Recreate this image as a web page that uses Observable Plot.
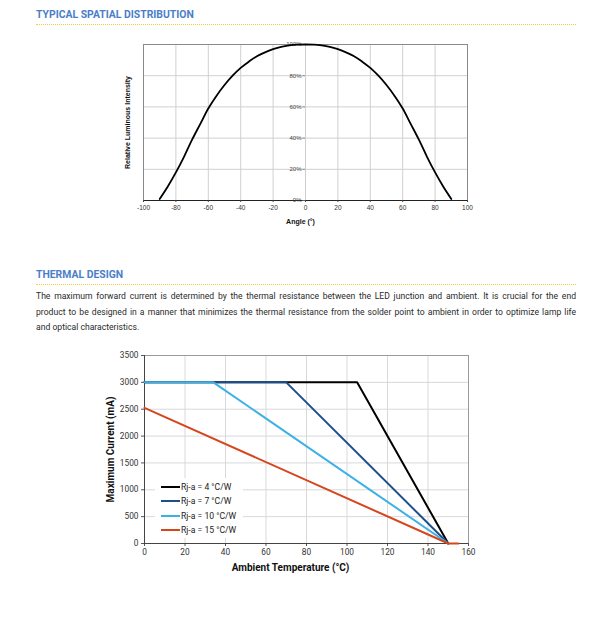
<!DOCTYPE html>
<html>
<head>
<meta charset="utf-8">
<script src="https://cdn.jsdelivr.net/npm/d3@7"></script>
<script src="https://cdn.jsdelivr.net/npm/@observablehq/plot@0.6"></script>
<style>
  html, body { margin: 0; padding: 0; background: #fff; }
  body { width: 612px; height: 627px; position: relative; overflow: hidden; font-family: Roboto, "Noto Sans", sans-serif; }
  .h { position: absolute; left: 36px; width: 540px; font-weight: 700; font-size: 10.4px; color: #4a7ec8; line-height: 12px; }
  .dots { position: absolute; left: 36px; width: 540px; height: 0; border-top: 1px dotted #eccf3a; }
  .p { position: absolute; left: 36px; width: 540px; font-size: 8.6px; color: #2a2a2a; line-height: 15.5px; }
  .p div { white-space: nowrap; }
  .p div.j { text-align: justify; text-align-last: justify; white-space: normal; }
  .chart { position: absolute; left: 0; }
  .legend { position: absolute; left: 155px; top: 478px; width: 88px; height: 60px; background: #fff; }
  .legend .row { position: absolute; left: 6px; height: 12px; font-size: 8.6px; color: #222; line-height: 12px; white-space: nowrap; }
  .legend .sw { display: inline-block; width: 19px; height: 2.4px; vertical-align: middle; margin-right: 1px; position: relative; top: -1px; }
  #c1 g[aria-label$="axis label"] { font-weight: bold; font-size: 7px; fill: #111; }
  #c2 g[aria-label$="axis label"] { font-weight: bold; font-size: 10px; fill: #111; }
</style>
</head>
<body>
<div class="h" style="top:9px">TYPICAL SPATIAL DISTRIBUTION</div>
<div class="dots" style="top:24px"></div>
<div id="c1" class="chart" style="top:30px"></div>

<div class="h" style="top:269px">THERMAL DESIGN</div>
<div class="dots" style="top:284px"></div>
<div class="p" style="top:289px">
  <div class="j">The maximum forward current is determined by the thermal resistance between the LED junction and ambient. It is crucial for the end</div>
  <div class="j">product to be designed in a manner that minimizes the thermal resistance from the solder point to ambient in order to optimize lamp life</div>
  <div>and optical characteristics.</div>
</div>
<div id="c2" class="chart" style="top:345px"></div>
<div id="leg" class="legend"></div>

<script>
// ---- Typical spatial distribution ----
const angles = [-90,-85,-80,-75,-70,-65,-60,-55,-50,-45,-40,-35,-30,-25,-20,-15,-10,-5,0,5,10,15,20,25,30,35,40,45,50,55,60,65,70,75,80,85,90];
const intensity = [1,9,18,28,39,49,59,67,74,80,85,89,92.5,95,97,98.5,99.4,99.9,100,99.9,99.4,98.5,97,95,92.5,89,85,80,74,67,59,49,39,28,18,9,1];
const angleTicks = [-100,-80,-60,-40,-20,0,20,40,60,80,100];
const pctTicks = [0,20,40,60,80,100];

// ---- Thermal design ----
const seriesNames = ["Rj-a = 4 °C/W","Rj-a = 7 °C/W","Rj-a = 10 °C/W","Rj-a = 15 °C/W"];
const seriesColors = ["#000000","#1d4f8c","#3cb1e6","#d6451c"];
const seriesTemps = [[0,105,150],[0,70,150],[0,34,150],[0,150,155]];
const seriesCurrents = [[3000,3000,0],[3000,3000,0],[3000,3000,0],[2525,0,0]];
const tempTicks = [0,20,40,60,80,100,120,140,160];
const currentTicks = [0,500,1000,1500,2000,2500,3000,3500];

const spatial = angles.map((a,i)=>({angle:a, value:intensity[i]}));

const c1 = Plot.plot({
  width: 612, height: 205,
  marginLeft: 143, marginRight: 145, marginTop: 14, marginBottom: 35,
  style: {fontFamily: "Liberation Sans, Arial, sans-serif", fontSize: "6.5px", color: "#333", background: "transparent"},
  x: {type: "linear", domain: [-100,100], label: null},
  y: {type: "linear", domain: [0,100], label: null},
  marks: [
    Plot.ruleX(angleTicks, {stroke: "#d0d0d0", strokeWidth: 1}),
    Plot.ruleY(pctTicks, {stroke: "#d0d0d0", strokeWidth: 1}),
    Plot.frame({stroke: "#8a8a8a", strokeWidth: 1}),
    Plot.ruleY([0], {stroke: "#222", strokeWidth: 1.2}),
    Plot.axisX({ticks: angleTicks, tickSize: 2, tickPadding: 3, stroke: "#444", fill: "#333", tickFormat: d=>d, label: null}),
    Plot.text(["Angle (°)"], {frameAnchor: "bottom", dy: 23, dx: -5, fontWeight: "bold", fontSize: 7, fill: "#111"}),
    Plot.axisY({ticks: [], label: "Relative Luminous Intensity", labelAnchor: "center", labelOffset: 18, labelArrow: false}),
    Plot.ruleY(pctTicks, {x1: -1.6, x2: 0, stroke: "#777", strokeWidth: 0.8}),
    Plot.text(pctTicks, {x: 0, y: d=>d, text: d=>d+"%", textAnchor: "end", dx: -4, fontSize: 6, fill: "#444"}),
    Plot.line(spatial, {x: "angle", y: "value", curve: "catmull-rom", stroke: "#000", strokeWidth: 1.8})
  ]
});
document.getElementById("c1").appendChild(c1);

const thermal = [];
seriesNames.forEach((s,k)=>{
  seriesTemps[k].forEach((t,i)=>thermal.push({series:s, temp:t, current:seriesCurrents[k][i]}));
});

const c2 = Plot.plot({
  width: 612, height: 238,
  marginLeft: 144, marginRight: 144, marginTop: 10, marginBottom: 40,
  style: {fontFamily: "Roboto, sans-serif", fontSize: "8.3px", color: "#333", background: "transparent"},
  x: {type: "linear", domain: [0,160], label: null},
  y: {type: "linear", domain: [0,3500], label: null},
  color: {domain: seriesNames, range: seriesColors},
  marks: [
    Plot.ruleX(tempTicks, {stroke: "#d9d9d9"}),
    Plot.ruleY(currentTicks, {stroke: "#d9d9d9"}),
    Plot.frame({stroke: "#9a9a9a"}),
    Plot.axisX({ticks: tempTicks, tickSize: 3, tickPadding: 3, stroke: "#555", fill: "#333", label: null}),
    Plot.text(["Ambient Temperature (°C)"], {frameAnchor: "bottom", dy: 27, dx: -16, fontWeight: "bold", fontSize: 10, fill: "#111"}),
    Plot.axisY({ticks: currentTicks, tickSize: 3, tickPadding: 3, stroke: "#555", fill: "#333", tickFormat: d=>String(d),
                label: "Maximum Current (mA)", labelAnchor: "center", labelOffset: 38, labelArrow: false}),
    Plot.ruleX([0], {stroke: "#444", strokeWidth: 1}),
    Plot.ruleY([0], {stroke: "#444", strokeWidth: 1}),
    Plot.line(thermal, {x: "temp", y: "current", z: "series", stroke: "series", strokeWidth: 2})
  ]
});
document.getElementById("c2").appendChild(c2);

const leg = document.getElementById("leg");
const rowTops = [3, 17, 32, 46];
seriesNames.forEach((s,k)=>{
  const r = document.createElement("div");
  r.className = "row";
  r.style.top = rowTops[k] + "px";
  r.innerHTML = `<span class="sw" style="background:${seriesColors[k]}"></span>${s}`;
  leg.appendChild(r);
});
</script>
</body>
</html>
